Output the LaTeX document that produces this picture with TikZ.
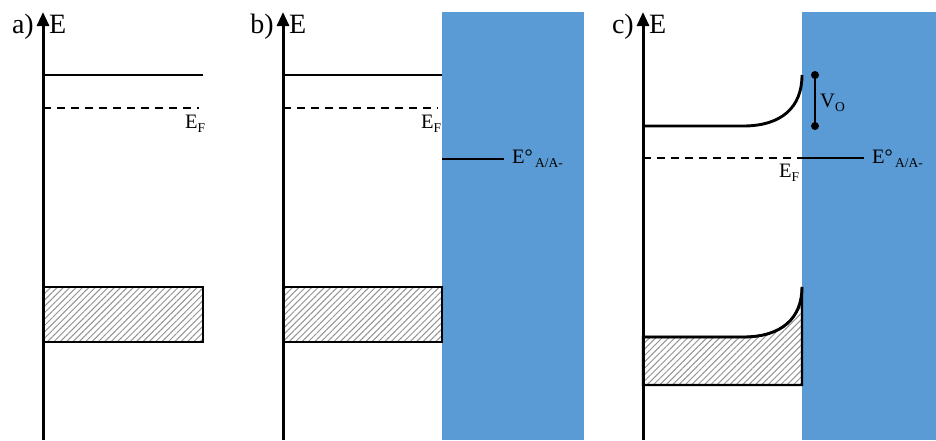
\documentclass[tikz,border=0pt]{standalone}
\usepackage{fontspec}
\setmainfont{Liberation Serif}
\usetikzlibrary{patterns.meta,arrows.meta}
\definecolor{elec}{HTML}{5B9BD5}
\newcommand\lowsub[1]{\raisebox{-4pt}{\fontsize{13.5}{14}\selectfont #1}}
\begin{document}
\begin{tikzpicture}[x=1pt,y=-1pt,
  band/.style={line width=2.9pt},
  axis/.style={line width=3pt,-{Triangle[length=14pt,width=12pt]}},
  hatch/.style={draw,line width=2.2pt,pattern={Lines[angle=45,distance=4.5pt,line width=1pt]},pattern color=gray!85},
  fermi/.style={line width=2.9pt,dash pattern=on 8pt off 6pt},
  big/.style={font=\fontsize{28}{30}\selectfont,inner sep=0pt},
  small/.style={font=\fontsize{20.5}{22}\selectfont,inner sep=0pt},
  dot/.style={circle,fill=black,inner sep=0pt,minimum size=8pt}]
\useasboundingbox (0,0) rectangle (936,440);
% electrolyte
\fill[elec] (442,12) rectangle (584,440);
\fill[elec] (802,12) rectangle (936,440);
% ---------- a) ----------
\draw[hatch] (43,287) rectangle (203,342);
\draw[band] (43,75) -- (203,75);
\draw[fermi] (43,108) -- (199,108);
\draw[axis] (43,440) -- (43,12);
\node[big,anchor=base east] (la) at (34,33) {a)};
\node[big,anchor=base west] (ea) at (49,33) {E};
\node[small,anchor=base west] (efa) at (185,128) {E\lowsub{F}};
% ---------- b) ----------
\draw[hatch] (283,287) rectangle (442,342);
\draw[band] (283,75) -- (442,75);
\draw[fermi] (283,108) -- (438,108);
\draw[band] (442,159) -- (504,159);
\draw[axis] (283,440) -- (283,12);
\node[big,anchor=base east] (lb) at (274,33) {b)};
\node[big,anchor=base west] (eb) at (289,33) {E};
\node[small,anchor=base west] (efb) at (421,128) {E\lowsub{F}};
\node[small,anchor=base west] (eob) at (512,163) {E°\lowsub{\,A/A-}};
% ---------- c) ----------
\draw[hatch] (643,337) -- (743,337) .. controls (782,337) and (802,318) .. (802,287) -- (802,385) -- (643,385) -- cycle;
\draw[band] (643,337) -- (743,337) .. controls (782,337) and (802,318) .. (802,287);
\draw[band] (643,126) -- (743,126) .. controls (782,126) and (802,107) .. (802,75);
\draw[fermi] (643,158) -- (802,158);
\draw[band] (802,158) -- (864,158);
\node[dot] (vt) at (815,75) {};
\node[dot] (vb) at (815,126) {};
\draw[line width=2.9pt] (vt.center) -- (vb.center);
\draw[axis] (643,440) -- (643,12);
\node[big,anchor=base east] (lc) at (634,33) {c)};
\node[big,anchor=base west] (ec) at (649,33) {E};
\node[small,anchor=base west] (efc) at (779,177) {E\lowsub{F}};
\node[small,anchor=base west] (eoc) at (872,163) {E°\lowsub{\,A/A-}};
\node[small,anchor=base west] (vo) at (820,107) {V\lowsub{O}};
\end{tikzpicture}
\end{document}
